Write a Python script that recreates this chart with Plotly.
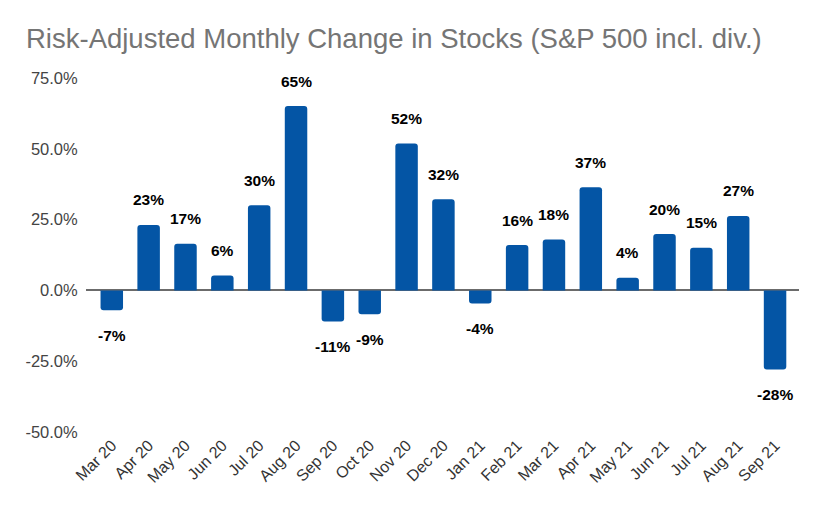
import plotly.graph_objects as go

months = [
    "Mar 20", "Apr 20", "May 20", "Jun 20", "Jul 20", "Aug 20", "Sep 20",
    "Oct 20", "Nov 20", "Dec 20", "Jan 21", "Feb 21", "Mar 21", "Apr 21",
    "May 21", "Jun 21", "Jul 21", "Aug 21", "Sep 21",
]
# bar heights (percent)
change = [
    -7.0, 23.1, 16.5, 5.3, 30.1, 65.1, -11.0,
    -8.4, 51.9, 32.2, -4.6, 16.0, 18.0, 36.4,
    4.5, 19.9, 15.1, 26.3, -27.9,
]
# printed labels on the bars
labels = [
    "-7%", "23%", "17%", "6%", "30%", "65%", "-11%",
    "-9%", "52%", "32%", "-4%", "16%", "18%", "37%",
    "4%", "20%", "15%", "27%", "-28%",
]
y_ticks = [-50, -25, 0, 25, 50, 75]

BLUE = "#0455a5"
FONT = "Liberation Sans, Arial, sans-serif"

fig = go.Figure(
    go.Bar(
        x=months,
        y=change,
        marker=dict(color=BLUE, cornerradius=3, line=dict(width=0)),
        hoverinfo="x+y",
    )
)

for m, v, t in zip(months, change, labels):
    fig.add_annotation(
        x=m,
        y=v,
        text="<b>%s</b>" % t,
        showarrow=False,
        yanchor="middle",
        yshift=25 if v >= 0 else -25,
        font=dict(family=FONT, size=15.5, color="#000000"),
    )

# the page adds ~8px of body margin, so offsets are trimmed by that
fig.update_layout(
    width=825,
    height=510,
    margin=dict(l=78, r=34, t=70, b=86),
    paper_bgcolor="white",
    plot_bgcolor="white",
    bargap=0.39,
    showlegend=False,
    font=dict(family=FONT),
    title=dict(
        text="Risk-Adjusted Monthly Change in Stocks (S&P 500 incl. div.)",
        x=18 / 825,
        xanchor="left",
        y=1 - 30 / 510,
        yanchor="middle",
        font=dict(family=FONT, size=27.5, color="#757575"),
    ),
    xaxis=dict(
        range=[-0.7, 18.65],
        tickangle=-45,
        showgrid=False,
        showline=False,
        ticks="",
        tickfont=dict(family=FONT, size=16, color="#333333"),
    ),
    yaxis=dict(
        range=[-50, 75],
        tickvals=y_ticks,
        ticktext=["%.1f%%" % v for v in y_ticks],
        showgrid=False,
        zeroline=True,
        zerolinecolor="#6b6b6b",
        zerolinewidth=1.5,
        tickfont=dict(family=FONT, size=16.5, color="#444444"),
        ticklen=4,
        ticks="outside",
        tickcolor="white",
    ),
)

fig.write_html("out.html")
